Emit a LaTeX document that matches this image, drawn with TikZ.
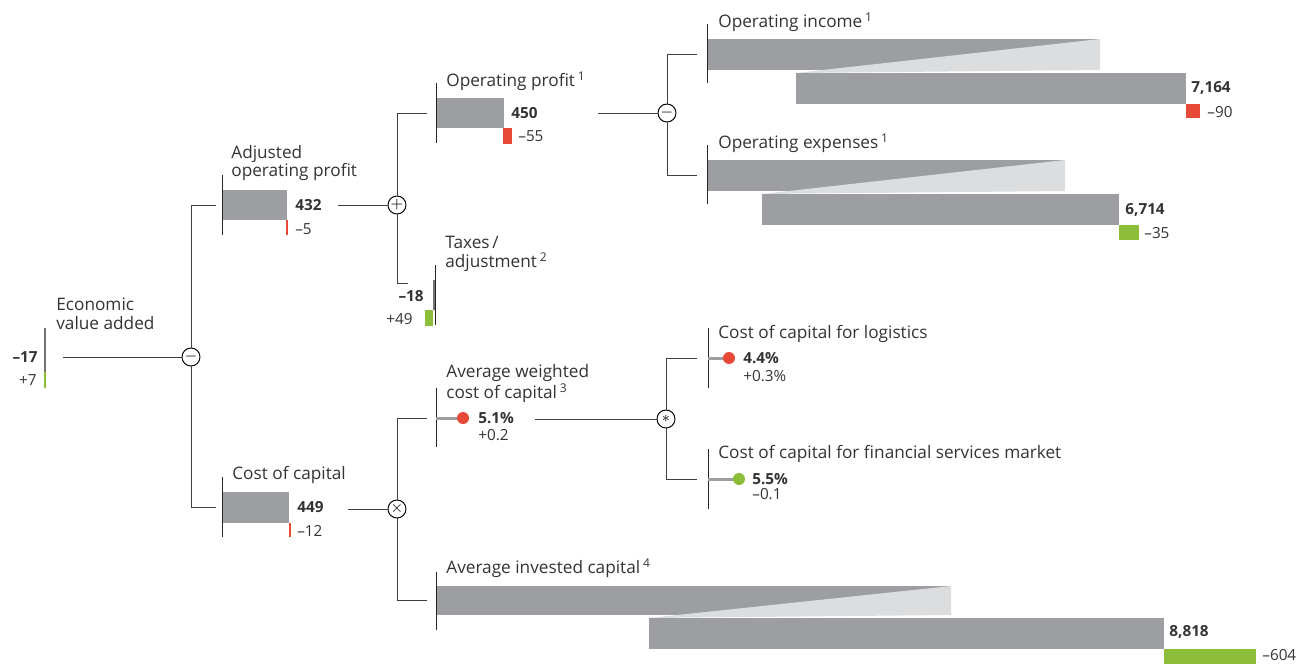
\documentclass[tikz,border=0pt]{standalone}
\usepackage{fontspec}
\setmainfont{Open Sans}
\definecolor{bargray}{HTML}{9D9EA2}
\definecolor{lightbar}{HTML}{DCDDDF}
\definecolor{devred}{HTML}{E64A36}
\definecolor{devgreen}{HTML}{8DBE3A}
\definecolor{txt}{HTML}{333333}
\begin{document}
\begin{tikzpicture}[x=0.02cm,y=-0.02cm,
    lbl/.style={anchor=west,inner sep=0pt,text=txt,align=left,font=\fontsize{9.8}{10.7}\selectfont},
    val/.style={anchor=west,inner sep=0pt,text=txt,font=\fontsize{8.7}{10}\selectfont\bfseries},
    dlt/.style={anchor=west,inner sep=0pt,text=txt,font=\fontsize{8.7}{10}\selectfont},
    op/.style={circle,draw=black,line width=0.55pt,fill=white,minimum size=0.36cm,inner sep=0pt,font=\small},
    conn/.style={draw=black!75,line width=0.55pt},
    axis/.style={draw=black!85,line width=0.5pt},
    stub/.style={draw=bargray,line width=1.7pt}]
    \useasboundingbox (0,0) rectangle (1312,667);
    % economic value added
    \fill[black!55] (43.5,328) rectangle (46,372);
    \fill[devgreen] (43.5,372) rectangle (46,388);
    \node[val,anchor=east] (evaval) at (38,357) {–17};
    \node[dlt,anchor=east] (evadlt) at (37,380) {+7};
    \node[lbl] (evalbl) at (56,314) {Economic\\value added};
    \coordinate (evaout) at (63,357);
    \node[op] (minus1) at (191,357) {$-$};
    \coordinate (aopin) at (216,205);
    \coordinate (cocin) at (216,507);
    \draw[conn] (evaout) -- (minus1);
    \draw[conn] (minus1) |- (aopin);
    \draw[conn] (minus1) |- (cocin);
    % adjusted operating profit
    \fill[bargray] (222,190) rectangle (287,220);
    \draw[devred,line width=0.6pt] (287,220) -- (287,235);
    \draw[axis] (222,175) -- (222,235);
    \node[lbl] (aoplbl) at (231,163) {Adjusted\\operating profit};
    \node[val] (aopval) at (295,205) {432};
    \node[dlt] (aopdlt) at (295,229) {–5};
    \coordinate (aopout) at (338,205);
    \node[op] (plus1) at (397,205) {$+$};
    \coordinate (opin) at (427,113);
    \coordinate (taxin) at (408,283);
    \draw[conn] (aopout) -- (plus1);
    \draw[conn] (plus1) |- (opin);
    \draw[conn] (plus1) |- (taxin);
    % operating profit
    \fill[bargray] (436,98) rectangle (504,128);
    \fill[devred] (503,128) rectangle (512,144);
    \draw[axis] (436,83) -- (436,143);
    \node[lbl] (oplbl) at (446,81) {Operating profit\,\textsuperscript{1}};
    \node[val] (opval) at (511,113) {450};
    \node[dlt] (opdlt) at (518,136) {–55};
    \coordinate (opout) at (598,113);
    \node[op] (minus2) at (667,113) {$-$};
    \coordinate (oiin) at (697,54);
    \coordinate (oein) at (697,175);
    \draw[conn] (opout) -- (minus2);
    \draw[conn] (minus2) |- (oiin);
    \draw[conn] (minus2) |- (oein);
    % operating income
    \fill[bargray] (707,39) rectangle (1100,70);
    \fill[lightbar] (1100,39) -- (1100,70) -- (796,73) -- cycle;
    \fill[bargray] (796,73) rectangle (1186,104);
    \fill[devred] (1186,104) rectangle (1200,118);
    \draw[axis] (707,24) -- (707,83);
    \node[lbl] (oilbl) at (718,22) {Operating income\,\textsuperscript{1}};
    \node[val] (oival) at (1191,88) {7,164};
    \node[dlt] (oidlt) at (1207,112) {–90};
    % operating expenses
    \fill[bargray] (707,160) rectangle (1065,191);
    \fill[lightbar] (1065,160) -- (1065,191) -- (762,194) -- cycle;
    \fill[bargray] (762,194) rectangle (1119,225);
    \fill[devgreen] (1119,225) rectangle (1139,240);
    \draw[axis] (707,145) -- (707,204);
    \node[lbl] (oelbl) at (718,143) {Operating expenses\,\textsuperscript{1}};
    \node[val] (oeval) at (1125,210) {6,714};
    \node[dlt] (oedlt) at (1144,233) {–35};
    % taxes
    \fill[black!55] (432.5,280) rectangle (435,310);
    \fill[devgreen] (425,310) rectangle (433,326);
    \draw[axis] (435,265) -- (435,325);
    \node[lbl] (taxlbl) at (445,254) {Taxes\,/\\adjustment\,\textsuperscript{2}};
    \node[val,anchor=east] (taxval) at (424,296) {–18};
    \node[dlt,anchor=east] (taxdlt) at (413,319) {+49};
    % cost of capital
    \fill[bargray] (222,492) rectangle (289,523);
    \draw[devred,line width=1.1pt] (290,523) -- (290,537);
    \draw[axis] (222,477) -- (222,537);
    \node[lbl] (coclbl) at (232,475) {Cost of capital};
    \node[val] (cocval) at (297,507) {449};
    \node[dlt] (cocdlt) at (297,531) {–12};
    \coordinate (cocout) at (348,509);
    \node[op] (times1) at (397,509) {$\times$};
    \coordinate (waccin) at (427,418);
    \coordinate (aicin) at (427,600);
    \draw[conn] (cocout) -- (times1);
    \draw[conn] (times1) |- (waccin);
    \draw[conn] (times1) |- (aicin);
    % average weighted cost of capital
    \draw[axis] (436,388) -- (436,447);
    \draw[stub] (436,418) -- (463,418);
    \fill[devred] (463,418) circle[radius=0.12cm];
    \node[lbl] (wacclbl) at (446,384) {Average weighted\\cost of capital\,\textsuperscript{3}};
    \node[val] (waccval) at (478,418) {5.1\%};
    \node[dlt] (waccdlt) at (478,435) {+0.2};
    \coordinate (waccout) at (535,419);
    \node[op] (star1) at (666,419) {$*$};
    \coordinate (login) at (697,358);
    \coordinate (fsin) at (697,479);
    \draw[conn] (waccout) -- (star1);
    \draw[conn] (star1) |- (login);
    \draw[conn] (star1) |- (fsin);
    % logistics
    \draw[axis] (708,328) -- (708,388);
    \draw[stub] (708,358) -- (729,358);
    \fill[devred] (729,358) circle[radius=0.12cm];
    \node[lbl] (loglbl) at (718,334) {Cost of capital for logistics};
    \node[val] (logval) at (743,358) {4.4\%};
    \node[dlt] (logdlt) at (743,376) {+0.3\%};
    % financial services
    \draw[axis] (708,449) -- (708,509);
    \draw[stub] (708,479) -- (739,479);
    \fill[devgreen] (739,479) circle[radius=0.12cm];
    \node[lbl] (fslbl) at (718,454) {Cost of capital for financial services market};
    \node[val] (fsval) at (752,479) {5.5\%};
    \node[dlt] (fsdlt) at (752,494) {–0.1};
    % average invested capital
    \fill[bargray] (436,586) rectangle (951,615);
    \fill[lightbar] (951,586) -- (951,615) -- (649,618) -- cycle;
    \fill[bargray] (649,618) rectangle (1164,649);
    \fill[devgreen] (1164,649) rectangle (1256,664);
    \draw[axis] (436,572) -- (436,630);
    \node[lbl] (aiclbl) at (446,568) {Average invested capital\,\textsuperscript{4}};
    \node[val] (aicval) at (1169,632) {8,818};
    \node[dlt] (aicdlt) at (1262,655) {–604};
\end{tikzpicture}
\end{document}
